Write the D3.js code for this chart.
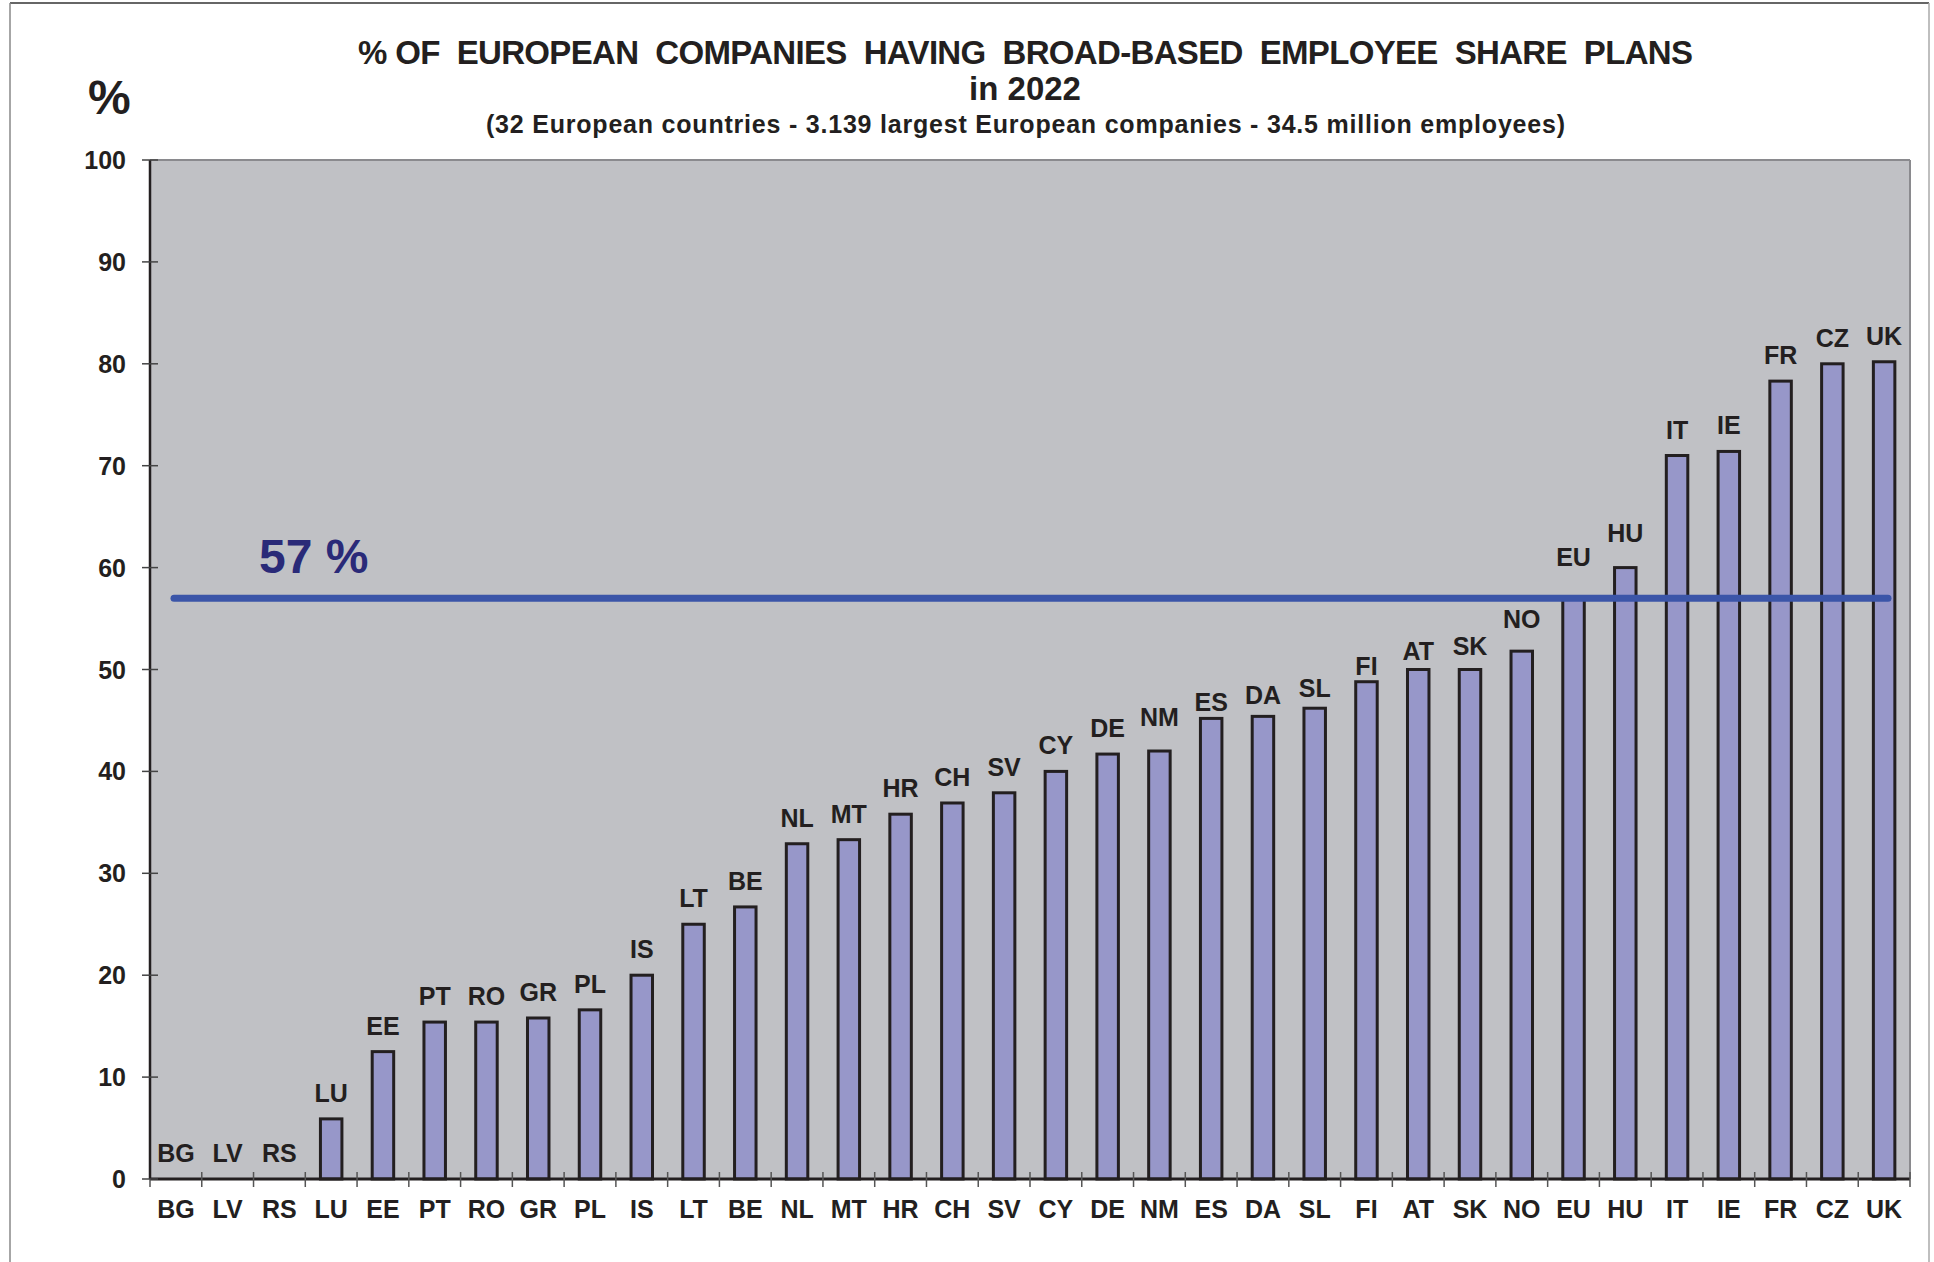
<!DOCTYPE html>
<html>
<head>
<meta charset="utf-8">
<script src="https://cdn.jsdelivr.net/npm/d3@7"></script>
<style>
  html, body { margin: 0; padding: 0; background: #ffffff; }
  svg { display: block; }
  text { font-family: "Liberation Sans", Arial, sans-serif; font-weight: bold; fill: #231f20; }
</style>
</head>
<body>
<svg id="chart" width="1934" height="1262"></svg>
<script>
// ---- data ----
const categories = ["BG","LV","RS","LU","EE","PT","RO","GR","PL","IS","LT","BE","NL","MT","HR","CH","SV","CY","DE","NM","ES","DA","SL","FI","AT","SK","NO","EU","HU","IT","IE","FR","CZ","UK"];
const values = [0,0,0,5.9,12.5,15.4,15.4,15.8,16.6,20.0,25.0,26.7,32.9,33.3,35.8,36.9,37.9,40.0,41.7,42.0,45.2,45.4,46.2,48.8,50.0,50.0,51.8,57.0,60.0,71.0,71.4,78.3,80.0,80.2];
const yTicks = [0,10,20,30,40,50,60,70,80,90,100];
const averageValue = 57;
const averageLabel = "57 %";
const titleLines = ["% OF  EUROPEAN  COMPANIES  HAVING  BROAD-BASED  EMPLOYEE  SHARE  PLANS", "in 2022"];
const subtitle = "(32 European countries - 3.139 largest European companies - 34.5 million employees)";
const yAxisUnit = "%";
// vertical nudges (px) of the hand-placed bar labels, in category order
const labelNudge = [0,0,0,0,0,0,0,0,0,0,0,0,0,0,0,0,0,0,0,-8,10,5,6,10,7,2,-6,-15,-9,0,0,0,0,0];

const data = categories.map((c, i) => ({ cat: c, val: values[i], nudge: labelNudge[i] }));

const svg = d3.select("#chart");
const margin = { left: 150, right: 1910, top: 160, bottom: 1179 };

// outer frame
svg.append("line").attr("x1", 10).attr("x2", 1929).attr("y1", 3).attr("y2", 3)
  .attr("stroke", "#333").attr("stroke-width", 1.5);
svg.append("line").attr("x1", 10).attr("x2", 10).attr("y1", 3).attr("y2", 1262)
  .attr("stroke", "#888").attr("stroke-width", 1.5);
svg.append("line").attr("x1", 1929).attr("x2", 1929).attr("y1", 3).attr("y2", 1262)
  .attr("stroke", "#aaa").attr("stroke-width", 1.5);

const x = d3.scaleBand().domain(categories).range([margin.left, margin.right]).paddingInner(0.585).paddingOuter(0.2925);
const y = d3.scaleLinear().domain([0, 100]).range([margin.bottom, margin.top]);

// plot background
svg.append("rect")
  .attr("x", margin.left).attr("y", margin.top)
  .attr("width", margin.right - margin.left).attr("height", margin.bottom - margin.top)
  .attr("fill", "#c0c1c5");
// plot border top/right
svg.append("line").attr("x1", margin.left).attr("x2", margin.right).attr("y1", margin.top).attr("y2", margin.top)
  .attr("stroke", "#8a8a8e").attr("stroke-width", 2);
svg.append("line").attr("x1", margin.right).attr("x2", margin.right).attr("y1", margin.top).attr("y2", margin.bottom)
  .attr("stroke", "#8a8a8e").attr("stroke-width", 2);

// bars
svg.append("g").selectAll("rect").data(data.filter(d => d.val > 0)).join("rect")
  .attr("x", d => x(d.cat))
  .attr("y", d => y(d.val))
  .attr("width", x.bandwidth())
  .attr("height", d => y(0) - y(d.val))
  .attr("fill", "#9797c9")
  .attr("stroke", "#231f20")
  .attr("stroke-width", 3);

// bar labels
svg.append("g").selectAll("text").data(data).join("text")
  .attr("x", d => x(d.cat) + x.bandwidth() / 2)
  .attr("y", d => y(d.val) - 17 + d.nudge)
  .attr("text-anchor", "middle")
  .attr("font-size", 25)
  .text(d => d.cat);

// average line
svg.append("line")
  .attr("x1", 174).attr("x2", 1888)
  .attr("y1", y(averageValue)).attr("y2", y(averageValue))
  .attr("stroke", "#3b55a8").attr("stroke-width", 7).attr("stroke-linecap", "round");
svg.append("text")
  .attr("x", 259).attr("y", y(averageValue) - 25)
  .attr("font-size", 48)
  .style("fill", "#2a2a78")
  .text(averageLabel);

// x axis
const xAxisG = svg.append("g").attr("transform", `translate(0,${margin.bottom})`);
xAxisG.append("line").attr("x1", margin.left).attr("x2", margin.right).attr("y1", 0).attr("y2", 0)
  .attr("stroke", "#231f20").attr("stroke-width", 3);
const step = x.step();
const boundaries = d3.range(categories.length + 1).map(i => margin.left + i * step);
xAxisG.selectAll("line.tick").data(boundaries).join("line").attr("class", "tick")
  .attr("x1", d => d).attr("x2", d => d).attr("y1", -7).attr("y2", 8)
  .attr("stroke", "#555").attr("stroke-width", 1.5);
xAxisG.selectAll("text").data(categories).join("text")
  .attr("x", d => x(d) + x.bandwidth() / 2)
  .attr("y", 39)
  .attr("text-anchor", "middle")
  .attr("font-size", 25)
  .text(d => d);

// y axis
const yAxisG = svg.append("g");
yAxisG.append("line").attr("x1", margin.left).attr("x2", margin.left).attr("y1", margin.top).attr("y2", margin.bottom)
  .attr("stroke", "#231f20").attr("stroke-width", 2.5);
yAxisG.selectAll("line.tick").data(yTicks).join("line").attr("class", "tick")
  .attr("x1", 142).attr("x2", 158).attr("y1", d => y(d)).attr("y2", d => y(d))
  .attr("stroke", "#444").attr("stroke-width", 1.5);
yAxisG.selectAll("text").data(yTicks).join("text")
  .attr("x", 126).attr("y", d => y(d) + 9)
  .attr("text-anchor", "end")
  .attr("font-size", 25)
  .text(d => d);

// unit label
svg.append("text").attr("x", 88).attr("y", 114).attr("font-size", 48).text(yAxisUnit);

// titles
svg.append("text").attr("x", 358).attr("y", 64).attr("font-size", 33)
  .style("white-space", "pre").attr("xml:space", "preserve")
  .attr("textLength", 1335).attr("lengthAdjust", "spacing")
  .text(titleLines[0]);
svg.append("text").attr("x", 1025).attr("y", 100).attr("font-size", 33).attr("text-anchor", "middle")
  .text(titleLines[1]);
svg.append("text").attr("x", 486).attr("y", 133).attr("font-size", 25)
  .attr("textLength", 1079).attr("lengthAdjust", "spacing")
  .text(subtitle);
</script>
</body>
</html>
